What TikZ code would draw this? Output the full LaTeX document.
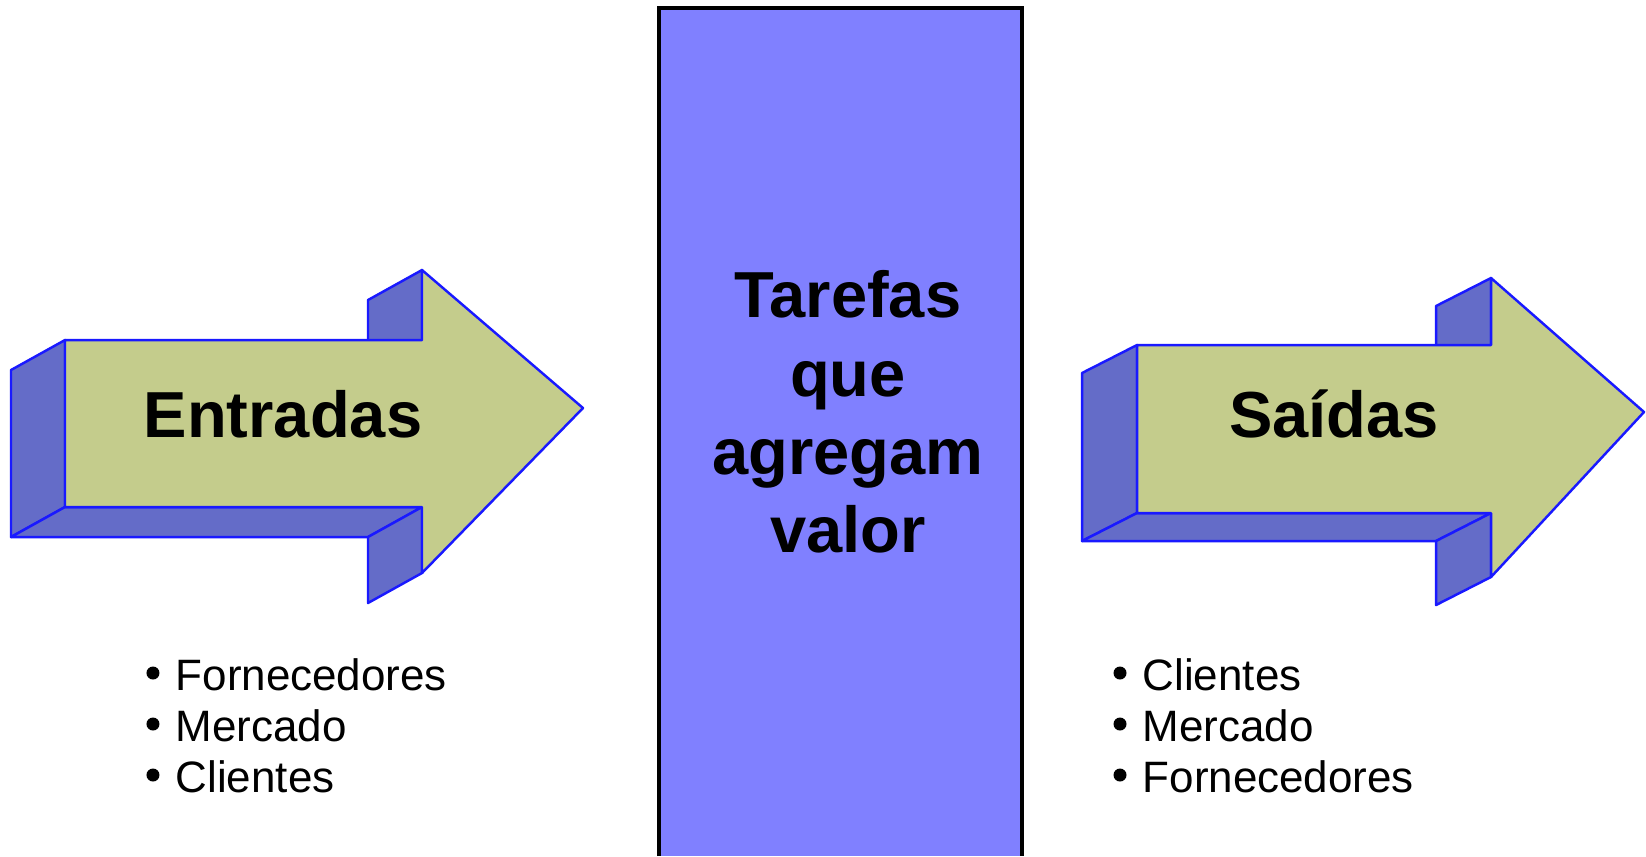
\documentclass[tikz,border=0pt]{standalone}
\usepackage{fontspec}
\setmainfont{Liberation Sans}

\definecolor{faceamarela}{RGB}{196,204,140}
\definecolor{facelateral}{RGB}{100,108,200}
\definecolor{contorno}{RGB}{25,25,255}
\definecolor{caixaazul}{RGB}{128,128,255}

\begin{document}
\begin{tikzpicture}[x=0.01cm, y=-0.01cm,
  frente/.style={draw=contorno, line width=0.7pt, fill=faceamarela, line join=round},
  lado/.style={draw=contorno, line width=0.7pt, fill=facelateral, line join=round},
  titulo/.style={font=\fontsize{18.5}{22.3}\selectfont\bfseries, inner sep=0pt},
  item/.style={font=\fontsize{12.5}{15}\selectfont, anchor=base west, inner sep=0pt}]
  \useasboundingbox (0,0) rectangle (1646,856);

  % seta de entrada: faces laterais, depois a frente
  \draw[lado] (65,340) -- (65,507) -- (11,537) -- (11,370) -- cycle;
  \draw[lado] (65,507) -- (422,507) -- (368,537) -- (11,537) -- cycle;
  \draw[lado] (422,340) -- (422,270) -- (368,300) -- (368,370) -- cycle;
  \draw[lado] (422,507) -- (422,573) -- (368,603) -- (368,537) -- cycle;
  \draw[frente] (65,340) -- (422,340) -- (422,270) -- (583,408) -- (422,573) -- (422,507) -- (65,507) -- cycle;

  % seta de saida
  \draw[lado] (1137,345) -- (1137,513) -- (1082,541) -- (1082,373) -- cycle;
  \draw[lado] (1137,513) -- (1491,513) -- (1436,541) -- (1082,541) -- cycle;
  \draw[lado] (1491,345) -- (1491,278) -- (1436,306) -- (1436,373) -- cycle;
  \draw[lado] (1491,513) -- (1491,577) -- (1436,605) -- (1436,541) -- cycle;
  \draw[frente] (1137,345) -- (1491,345) -- (1491,278) -- (1644,412) -- (1491,577) -- (1491,513) -- (1137,513) -- cycle;

  % caixa central, aberta embaixo
  \fill[caixaazul] (659,8) rectangle (1022,856);
  \draw[line width=0.95pt] (659,856) -- (659,8) -- (1022,8) -- (1022,856);

  \node[titulo, anchor=base] (entradas) at (283,437) {Entradas};
  \node[titulo, anchor=base] (saidas) at (1334,437) {Saídas};
  \node[titulo, align=center] (tarefas) at (848,412) {Tarefas\\que\\agregam\\valor};

  % listas
  \node[item] (ent1) at (175,690) {Fornecedores};
  \node[item] (ent2) at (175,741) {Mercado};
  \node[item] (ent3) at (175,792) {Clientes};
  \node[item] (sai1) at (1142,690) {Clientes};
  \node[item] (sai2) at (1142,741) {Mercado};
  \node[item] (sai3) at (1142,792) {Fornecedores};
  \foreach \n in {ent1,ent2,ent3,sai1,sai2,sai3}
    \fill ([shift={(-0.22cm,0.17cm)}]\n.base west) circle (0.065cm);
\end{tikzpicture}
\end{document}
